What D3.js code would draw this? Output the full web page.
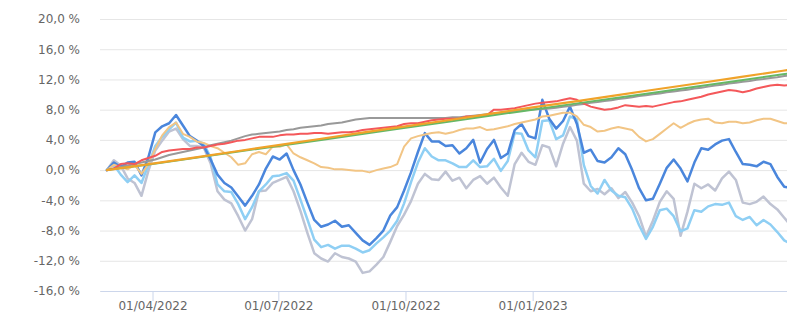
<!DOCTYPE html>
<html>
<head>
<meta charset="utf-8">
<script src="https://cdn.jsdelivr.net/npm/d3@7"></script>
<style>
  html, body { margin: 0; padding: 0; background: #fff; }
  svg { display: block; }
  .axis text { font-family: "DejaVu Sans", Verdana, sans-serif; font-size: 12px; fill: #666; }
</style>
</head>
<body>
<svg id="chart"></svg>
<script>
// volatile series are sampled every 5 days from 27/02/2022 (values in %)
const startDate = '2022-02-27';
const stepDays = 5;

const darkBlue = [0.0,1.0,0.4,1.0,1.1,-0.7,1.7,5.0,5.8,6.2, 7.3,5.9,4.5,3.9,3.2,1.4,-0.6,-1.7,-2.3,-3.5,
  -4.7,-3.4,-1.9,0.2,1.8,1.4,2.2,0.0,-1.9,-4.3, -6.6,-7.5,-7.2,-6.7,-7.5,-7.3,-8.3,-9.3,-9.9,-9.0,
  -8.0,-6.0,-4.9,-2.7,-0.3,2.4,4.9,3.8,3.8,3.2, 3.3,2.2,2.9,4.0,1.0,2.8,4.0,1.6,2.2,5.3,
  6.1,4.5,4.2,9.3,6.8,5.5,6.5,8.4,6.1,2.3, 2.7,1.2,1.0,1.7,2.9,2.1,0.0,-2.4,-4.0,-3.8,
  -1.8,0.3,1.4,0.2,-1.5,1.0,2.9,2.7,3.4,3.9, 4.1,2.4,0.8,0.7,0.5,1.1,0.8,-0.9,-2.2,-2.4];

const lightBlue = [0.0,0.7,-0.6,-1.6,-0.7,-1.7,0.7,3.2,4.4,5.4, 6.3,4.3,3.8,3.9,3.5,1.7,-1.9,-2.8,-2.9,-4.5,
  -6.5,-4.9,-2.8,-1.9,-0.8,-0.7,-0.4,-1.4,-3.9,-6.5, -9.2,-10.2,-9.9,-10.4,-10.0,-10.0,-10.4,-10.9,-10.6,-9.7,
  -8.9,-8.0,-6.7,-4.4,-1.6,1.0,2.9,1.8,1.3,1.3, 0.9,0.4,0.4,1.3,0.4,0.5,1.5,-0.1,1.2,4.9,
  4.8,2.6,1.7,6.5,6.6,4.1,4.6,7.1,6.7,0.7, -2.1,-3.1,-1.3,-2.7,-3.4,-3.6,-5.1,-7.3,-9.1,-7.5,
  -5.3,-5.1,-6.1,-8.1,-7.7,-5.3,-5.5,-4.8,-4.5,-4.6, -4.3,-6.1,-6.6,-6.2,-7.3,-6.6,-7.2,-8.2,-9.3,-9.8];

const lavender = [0.0,1.3,0.6,-1.1,-1.7,-3.4,-0.1,2.6,3.9,5.1, 5.5,4.1,3.2,3.2,3.0,0.9,-2.8,-3.9,-4.4,-6.1,
  -8.0,-6.5,-2.8,-2.7,-1.7,-1.3,-0.9,-2.8,-5.4,-8.3, -11.0,-11.7,-12.1,-11.0,-11.5,-11.7,-12.1,-13.6,-13.4,-12.5,
  -11.5,-9.5,-7.4,-5.9,-4.1,-1.8,-0.5,-1.2,-1.3,-0.2, -1.4,-1.0,-2.4,-1.3,-0.8,-1.8,-1.0,-2.3,-3.4,0.8,
  2.3,1.1,0.7,3.3,3.0,0.5,3.5,5.7,3.9,-1.8, -2.8,-2.5,-3.2,-2.4,-3.7,-2.9,-4.3,-6.1,-8.8,-6.7,
  -4.2,-2.8,-3.8,-8.7,-5.5,-1.8,-2.4,-1.9,-2.7,-1.1, -0.2,-1.3,-4.3,-4.5,-4.2,-3.5,-4.5,-5.2,-6.3,-7.4];

const tan = [0.0,0.7,0.4,0.1,0.7,-0.5,0.8,2.8,4.6,5.7, 6.3,4.8,4.4,3.8,3.6,3.2,2.9,2.3,1.7,0.7,
  0.9,2.1,2.4,2.1,3.1,3.1,3.4,2.2,1.7,1.3, 0.9,0.4,0.3,0.1,0.1,0.0,-0.1,-0.1,-0.3,0.0,
  0.2,0.4,0.8,3.1,4.2,4.5,4.7,4.9,5.0,4.8, 5.0,5.3,5.5,5.5,5.7,5.3,5.4,5.6,5.8,6.1,
  6.3,6.5,6.7,7.1,7.2,7.4,7.6,7.6,7.1,6.0, 5.7,5.1,5.2,5.5,5.7,5.5,5.3,4.4,3.8,4.1,
  4.8,5.5,6.2,5.6,6.1,6.5,6.7,6.8,6.3,6.2, 6.4,6.4,6.2,6.3,6.6,6.8,6.8,6.5,6.2,6.2];

const red = [0.0,0.2,0.8,0.9,0.8,1.3,1.6,1.9,2.4,2.6, 2.7,2.8,2.8,3.0,3.0,3.2,3.4,3.5,3.7,3.9,
  4.0,4.2,4.4,4.4,4.4,4.6,4.7,4.7,4.8,4.8, 4.9,4.9,4.8,4.9,5.0,5.0,5.1,5.3,5.4,5.5,
  5.6,5.7,5.8,6.1,6.2,6.2,6.4,6.6,6.7,6.8, 6.8,6.8,7.1,7.1,7.2,7.3,8.0,8.0,8.1,8.2,
  8.4,8.6,8.8,8.9,9.0,9.1,9.3,9.5,9.3,8.8, 8.4,8.2,8.0,8.1,8.3,8.6,8.5,8.4,8.5,8.4,
  8.6,8.8,9.0,9.1,9.3,9.5,9.7,10.0,10.2,10.4, 10.6,10.5,10.3,10.5,10.8,11.0,11.2,11.3,11.2,11.3];

const grey = [0.0,0.2,0.4,0.6,0.8,1.0,1.2,1.4,1.7,2.0, 2.2,2.4,2.6,2.8,3.0,3.3,3.5,3.7,3.9,4.2,
  4.5,4.7,4.8,4.9,5.0,5.1,5.3,5.4,5.6,5.7, 5.8,5.9,6.1,6.2,6.3,6.5,6.7,6.8,6.9,6.9,
  6.9,6.9,6.9,6.9,6.9,6.9,6.9,6.9,6.9,6.9, 7.0,7.0,7.1,7.2,7.3,7.4,7.5,7.6,7.7,7.8,
  7.9,8.0,8.05,8.1,8.15,8.25,8.4,8.5,8.65,8.75, 8.9,9.0,9.15,9.25,9.4,9.5,9.65,9.8,9.9,10.05,
  10.15,10.3,10.4,10.55,10.65,10.8,10.9,11.05,11.2,11.3, 11.45,11.55,11.7,11.8,11.95,12.05,12.2,12.3,12.45,12.55];

// the two steady lines, read at month starts
const steadyDates = ['2022-02-27','2022-04-01','2022-05-01','2022-06-01','2022-07-01','2022-08-01',
  '2022-09-01','2022-10-01','2022-11-01','2022-12-01','2023-01-01','2023-02-01','2023-03-01',
  '2023-04-01','2023-05-01','2023-06-01','2023-07-01','2023-07-06'];
const orangeLine = [0.0,0.85,1.65,2.5,3.3,4.15,5.0,5.8,6.6,7.45,8.3,9.1,9.85,10.7,11.5,12.35,13.15,13.3];
const greenLine = [0.0,0.82,1.6,2.42,3.2,4.0,4.8,5.6,6.4,7.2,8.0,8.8,9.5,10.3,11.1,11.9,12.7,12.8];

const yTicks = [-16, -12, -8, -4, 0, 4, 8, 12, 16, 20];
const xTicks = ['2022-04-01', '2022-07-01', '2022-10-01', '2023-01-01'];

const width = 787, height = 312;
const margin = {top: 19, right: 0, bottom: 21, left: 100};
const plotW = width - margin.left - margin.right;
const plotH = height - margin.top - margin.bottom;

const parse = d3.utcParse('%Y-%m-%d');
const svg = d3.select('#chart').attr('width', width).attr('height', height);

let xScale = d3.scaleUtc()
  .domain([parse('2022-02-22'), parse('2023-07-04')])
  .range([margin.left, margin.left + plotW]);
let yScale = d3.scaleLinear()
  .domain([-16, 20])
  .range([margin.top + plotH, margin.top]);

// grid + y labels
let yAxis = d3.axisLeft(yScale)
  .tickValues(yTicks)
  .tickSize(-plotW)
  .tickPadding(20)
  .tickFormat(d => d.toFixed(1).replace('.', ',') + ' %');
let yG = svg.append('g')
  .attr('class', 'axis')
  .attr('transform', `translate(${margin.left},0)`)
  .call(yAxis);
yG.select('.domain').remove();
yG.selectAll('line').attr('stroke', '#e6e6e6');

// x axis
let xAxis = d3.axisBottom(xScale)
  .tickValues(xTicks.map(parse))
  .tickSize(10)
  .tickSizeOuter(0)
  .tickPadding(0)
  .tickFormat(d3.utcFormat('%d/%m/%Y'));
let xG = svg.append('g')
  .attr('class', 'axis')
  .attr('transform', `translate(0,${margin.top + plotH})`)
  .call(xAxis);
xG.select('.domain').attr('stroke', '#ccd6eb');
xG.selectAll('line').attr('stroke', '#ccd6eb');

svg.append('defs').append('clipPath')
  .attr('id', 'clip')
  .append('rect')
  .attr('x', margin.left)
  .attr('y', 0)
  .attr('width', plotW)
  .attr('height', height);

let lines = svg.append('g').attr('clip-path', 'url(#clip)');

const start = parse(startDate);
const sampled = darkBlue.map((v, i) => d3.utcDay.offset(start, i * stepDays));
const steady = steadyDates.map(parse);

let line = d3.line()
  .x(d => xScale(d[0]))
  .y(d => yScale(d[1]));

function draw(dates, values, colour, w) {
  lines.append('path')
    .datum(values.map((v, i) => [dates[i], v]))
    .attr('d', line)
    .attr('fill', 'none')
    .attr('stroke', colour)
    .attr('stroke-width', w)
    .attr('stroke-linejoin', 'round')
    .attr('stroke-linecap', 'round');
}

draw(sampled, lavender, '#bfc3d3', 2.5);
draw(sampled, lightBlue, '#8fcff4', 2.5);
draw(sampled, darkBlue, '#4a86dc', 2.5);
draw(sampled, tan, '#f2c585', 2);
draw(sampled, grey, '#999999', 2);
draw(sampled, red, '#f4585a', 2);
draw(steady, greenLine, '#66b866', 2);
draw(steady, orangeLine, '#f0a32a', 2.2);
</script>
</body>
</html>
